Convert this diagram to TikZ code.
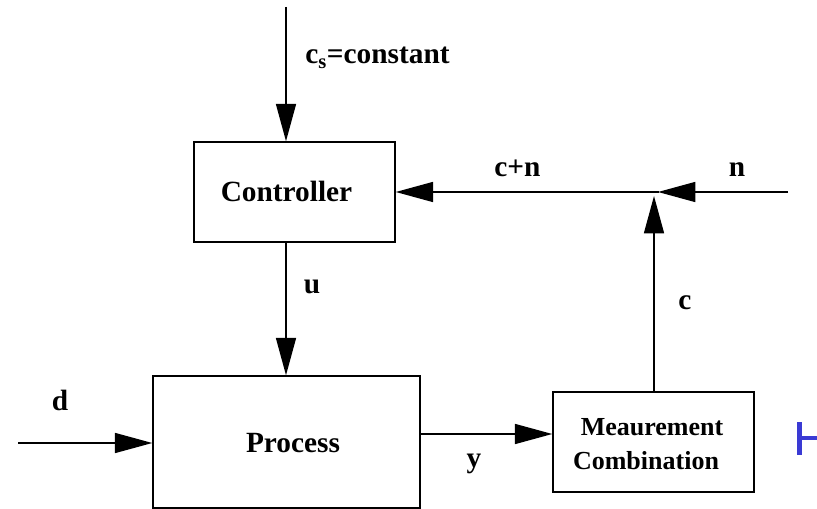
\documentclass[tikz,border=0pt]{standalone}
\usepackage{fontspec}
\setmainfont{Liberation Serif}
\usetikzlibrary{arrows.meta}
\definecolor{markblue}{RGB}{58,58,212}
\tikzset{
  blockbox/.style={draw, line width=1.1pt, inner sep=0pt, font=\bfseries\fontsize{22}{26}\selectfont},
  sig/.style={line width=1.1pt, -{Triangle[length=28pt,width=15pt]}},
  lbl/.style={anchor=base, inner sep=0pt, font=\bfseries\fontsize{22}{26}\selectfont},
  meastxt/.style={anchor=base, inner sep=0pt, font=\bfseries\fontsize{19.5}{23}\selectfont}
}
\begin{document}
\begin{tikzpicture}[x=0.75pt,y=-0.75pt]
\useasboundingbox (0,0) rectangle (817,509);

% blocks
\node[blockbox, minimum width=150.75pt, minimum height=75pt] (ctrl) at (294.5,192) {};
\node[blockbox, minimum width=200.25pt, minimum height=99pt] (proc) at (286.5,442) {};
\node[blockbox, minimum width=150.75pt, minimum height=75pt] (meas) at (653.5,442) {};

% block texts
\node[lbl] (ctrltxt) at (286.5,202) {Controller};
\node[lbl] (proctxt) at (293,452) {Process};
\node[meastxt] (meas1) at (652,435) {Meaurement};
\node[meastxt] (meas2) at (646,469) {Combination};

% signal points
\coordinate (src) at (286,7);
\coordinate (din) at (18,443);
\coordinate (ylev) at (0,434);
\coordinate (sum) at (654,192);
\coordinate (nin) at (788,192);

% connectors
\draw[sig] (src) -- (src |- ctrl.north);
\draw[sig] (ctrl.south -| src) -- (proc.north -| src);
\draw[sig] (din) -- (din -| proc.west);
\draw[sig] (proc.east |- ylev) -- (meas.west |- ylev);
\draw[sig, shorten >=3pt] (meas.north -| sum) -- (sum);
\draw[sig, shorten >=3pt] (nin) -- (sum);
\draw[sig] ([xshift=3.5pt]sum) -- (ctrl.east |- sum);

% signal labels
\node[lbl, anchor=base west] (cs) at (305,64) {c\textsubscript{s}=constant};
\node[lbl, anchor=base west] (cn) at (494,177) {c+n};
\node[lbl] (nlbl) at (737,177) {n};
\node[lbl] (ulbl) at (312,294) {u};
\node[lbl] (clbl) at (685,310) {c};
\node[lbl] (dlbl) at (60,410) {d};
\node[lbl] (ylbl) at (474,467) {y};

% blue mark at the right edge
\draw[markblue, line width=3.4pt] (799.5,422) -- (799.5,455);
\draw[markblue, line width=2.6pt] (799.5,438) -- (817,438);
\end{tikzpicture}
\end{document}
